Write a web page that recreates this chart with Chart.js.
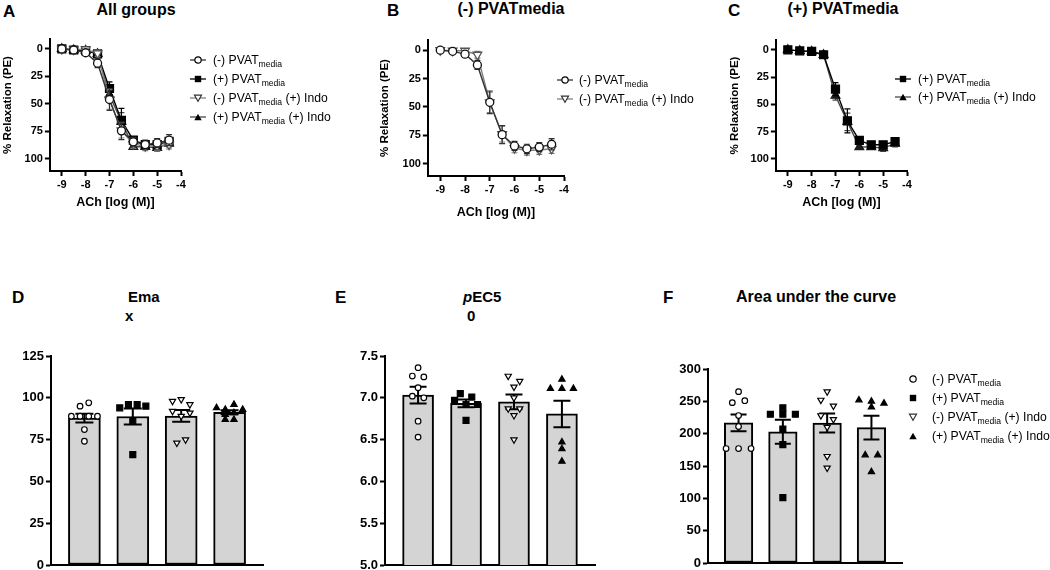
<!DOCTYPE html>
<html>
<head>
<meta charset="utf-8">
<script src="https://cdn.jsdelivr.net/npm/chart.js@4.4.1/dist/chart.umd.min.js"></script>
<style>
html, body { margin: 0; padding: 0; background: #fff; }
body { position: relative; width: 1050px; height: 570px; overflow: hidden; font-family: 'Liberation Sans', Arial, Helvetica, sans-serif; color: #000; }
canvas { position: absolute; }
.t { position: absolute; font-weight: bold; white-space: nowrap; line-height: 1; }
.lg { position: absolute; height: 12px; display: flex; align-items: center; font-size: 12.2px; white-space: nowrap; line-height: 1; }
.lg sub { font-size: 8.6px; vertical-align: baseline; position: relative; top: 3px; }
</style>
</head>
<body>
<script>
// concentration-response (mean, SEM), log [ACh]
const logAch = [-9, -8.5, -8, -7.5, -7, -6.5, -6, -5.5, -5, -4.5];
const relaxMinus = [0, 1, 3.5, 13, 46, 74.5, 84.5, 87, 85.5, 83];
const semMinus = [0.5, 1.5, 2, 4, 10, 8, 4, 4, 4, 5];
const relaxPlus = [0, 1, 1.5, 4.5, 36, 65, 83, 87, 87, 84];
const semPlus = [0.5, 1, 1, 1.5, 6, 11, 3, 3, 3, 3];
const relaxMinusIndo = [0, 0.5, 0.5, 4, 46, 74, 86.5, 88.5, 88, 87];
const semMinusIndo = [0.5, 1, 2, 3, 9, 7, 4, 4, 4, 4];
const relaxPlusIndo = [0, 1, 1.5, 4.5, 42, 66, 89, 89, 90, 86];
const semPlusIndo = [0.5, 1, 1, 1.5, 4, 8, 2, 2, 3, 3];
const logTicks = [-9, -8, -7, -6, -5, -4];
const relaxTicks = [0, 25, 50, 75, 100];

// individual values per group: (-) PVAT, (+) PVAT, (-) PVAT + Indo, (+) PVAT + Indo
const emaxMinus = [95, 97, 89, 89, 89, 89, 81, 74];
const emaxPlus = [94, 96, 96, 95, 86, 66];
const emaxMinusIndo = [98, 99, 96, 92, 89, 91, 73, 75];
const emaxPlusIndo = [94, 93, 96, 93, 90, 87, 87, 91];
const emaxTicks = [0, 25, 50, 75, 100, 125];

const pecMinus = [7.36, 7.26, 7.25, 7.12, 7.02, 7.0, 6.72, 6.53];
const pecPlus = [7.05, 7.01, 6.97, 6.92, 6.92, 6.73];
const pecMinusIndo = [7.26, 7.2, 7.13, 7.0, 6.87, 6.87, 6.79, 6.5];
const pecPlusIndo = [7.22, 7.11, 7.11, 7.11, 6.47, 6.39, 6.24];
const pecTicks = [5.0, 5.5, 6.0, 6.5, 7.0, 7.5];

const aucMinus = [265, 248, 251, 228, 211, 177, 177, 177];
const aucPlus = [240, 230, 230, 230, 207, 183, 101];
const aucMinusIndo = [265, 252, 243, 228, 222, 210, 165, 147];
const aucPlusIndo = [252, 250, 247, 241, 167, 167, 141];
const aucTicks = [0, 50, 100, 150, 200, 250, 300];

const groupKeys = ['minus', 'plus', 'minusIndo', 'plusIndo'];
const groupNames = ['(-) PVAT', '(+) PVAT', '(-) PVAT', '(+) PVAT'];
const groupTails = ['', '', ' (+) Indo', ' (+) Indo'];

const FONT = "'Liberation Sans', Arial, Helvetica, sans-serif";
Chart.defaults.font.family = FONT;
Chart.defaults.color = '#000';

const look = {
  minus: { shape: 'circle', rot: 0, r: 4, fill: '#fff', edge: '#111', line: '#333' },
  plus: { shape: 'rect', rot: 0, r: 5.6, fill: '#000', edge: '#000', line: '#000' },
  minusIndo: { shape: 'triangle', rot: 180, r: 5, fill: '#fff', edge: '#555', line: '#808080' },
  plusIndo: { shape: 'triangle', rot: 0, r: 5, fill: '#1a1a1a', edge: '#1a1a1a', line: '#4a4a4a' }
};

function drawErrors(chart, i) {
  const ds = chart.data.datasets[i];
  if (!chart.isDatasetVisible(i)) return;
  const xs = chart.scales.x, ys = chart.scales.y, ctx = chart.ctx;
  const c = ds.capWidth / 2;
  ctx.save();
  ctx.strokeStyle = ds.errColor;
  ctx.lineWidth = ds.errWidth;
  ds.data.forEach((p, j) => {
    const e = ds.errors[j];
    const x = xs.getPixelForValue(p.x);
    const y1 = ys.getPixelForValue(p.y - e), y2 = ys.getPixelForValue(p.y + e);
    ctx.beginPath();
    ctx.moveTo(x, y1); ctx.lineTo(x, y2);
    ctx.moveTo(x - c, y1); ctx.lineTo(x + c, y1);
    ctx.moveTo(x - c, y2); ctx.lineTo(x + c, y2);
    ctx.stroke();
  });
  ctx.restore();
}

Chart.register({
  id: 'errorBars',
  beforeDatasetDraw(chart, args) {
    const ds = chart.data.datasets[args.index];
    if (ds.errors && !ds.errAbove) drawErrors(chart, args.index);
  },
  afterDatasetDraw(chart, args) {
    const ds = chart.data.datasets[args.index];
    if (ds.errors && ds.errAbove) drawErrors(chart, args.index);
  }
});

function addCanvas(box) {
  const c = document.createElement('canvas');
  c.width = box.right - box.left;
  c.height = box.bottom - box.top;
  c.style.left = box.left + 'px';
  c.style.top = box.top + 'px';
  document.body.appendChild(c);
  return c;
}

function text(html, x, baseline, size, align) {
  const d = document.createElement('div');
  d.className = 't';
  d.innerHTML = html;
  d.style.fontSize = size + 'px';
  d.style.top = (baseline - 0.8465 * size) + 'px';
  d.style.left = x + 'px';
  if (align === 'center') d.style.transform = 'translateX(-50%)';
  document.body.appendChild(d);
}

function symbolSvg(key, withLine) {
  const s = look[key];
  let m;
  if (key === 'minus') m = '<circle cx="8" cy="6" r="3.2" fill="#fff" stroke="#000" stroke-width="1.2"/>';
  else if (key === 'plus') m = '<rect x="4.8" y="2.8" width="6.4" height="6.4" fill="#000"/>';
  else if (key === 'minusIndo') m = '<polygon points="4.5,3.2 11.5,3.2 8,9.2" fill="#fff" stroke="#333" stroke-width="1.2"/>';
  else m = '<polygon points="4.3,9.2 11.7,9.2 8,2.8" fill="#000"/>';
  const line = withLine ? '<line x1="0" y1="6" x2="16" y2="6" stroke="' + s.line + '" stroke-width="1.3"/>' : '';
  return '<svg width="16" height="12" viewBox="0 0 16 12">' + line + m + '</svg>';
}

function legend(idx, symLeft, textLeft, rows, withLine) {
  idx.forEach((g, k) => {
    const d = document.createElement('div');
    d.className = 'lg';
    d.style.left = symLeft + 'px';
    d.style.top = (rows[k] - 6) + 'px';
    d.innerHTML = symbolSvg(groupKeys[g], withLine) +
      '<span style="margin-left:' + (textLeft - symLeft - 16) + 'px">' +
      groupNames[g] + '<sub>media</sub>' + groupTails[g] + '</span>';
    document.body.appendChild(d);
  });
}

const curveVals = [relaxMinus, relaxPlus, relaxMinusIndo, relaxPlusIndo];
const curveSems = [semMinus, semPlus, semMinusIndo, semPlusIndo];

function curveDataset(g) {
  const s = look[groupKeys[g]];
  return {
    data: logAch.map((x, i) => ({ x: x, y: curveVals[g][i] })),
    errors: curveSems[g], errColor: s.line, errWidth: 1.2, capWidth: 6,
    borderColor: s.line, borderWidth: 1.4, tension: 0, fill: false,
    pointStyle: s.shape, pointRotation: s.rot, pointRadius: s.r,
    pointBackgroundColor: s.fill, pointBorderColor: s.edge, pointBorderWidth: 1.3
  };
}

function curvePanel(groups, area, yTitleX, xTitleY) {
  const box = { left: yTitleX - 6.9, top: area.t - 12, right: area.r + 16, bottom: xTitleY + 10 };
  const tickGrid = { display: true, drawOnChartArea: false, drawTicks: true, tickLength: 5, tickWidth: 2, tickColor: '#000' };
  new Chart(addCanvas(box), {
    type: 'line',
    data: { datasets: groups.map(curveDataset) },
    options: {
      responsive: false, animation: false, devicePixelRatio: 1, events: [],
      layout: { padding: { left: 0, top: area.t - box.top, right: box.right - area.r, bottom: 0 } },
      plugins: { legend: { display: false }, tooltip: { enabled: false } },
      scales: {
        x: {
          type: 'linear', min: -9.5, max: -4, offset: false,
          afterBuildTicks: s => { s.ticks = logTicks.map(v => ({ value: v })); },
          afterFit: s => { s.height = box.bottom - area.b; },
          grid: tickGrid, border: { display: true, color: '#000', width: 2 },
          ticks: { font: { size: 11, weight: 'bold' }, padding: 2, autoSkip: false, maxRotation: 0 },
          title: { display: true, text: 'ACh [log (M)]', font: { size: 12.5, weight: 'bold' }, padding: { top: 0, bottom: 2.5 } }
        },
        y: {
          type: 'linear', min: -9, max: 111, reverse: true,
          afterBuildTicks: s => { s.ticks = relaxTicks.map(v => ({ value: v })); },
          afterFit: s => { s.width = area.l - box.left; },
          grid: tickGrid, border: { display: true, color: '#000', width: 2 },
          ticks: { font: { size: 11, weight: 'bold' }, padding: 2, autoSkip: false },
          title: { display: true, text: '% Relaxation (PE)', font: { size: 11.5, weight: 'bold' }, padding: { top: 0, bottom: 0 } }
        }
      }
    }
  });
}

function mean(a) { return a.reduce((s, v) => s + v, 0) / a.length; }
function sem(a) {
  const m = mean(a);
  return Math.sqrt(a.reduce((s, v) => s + (v - m) * (v - m), 0) / (a.length - 1) / a.length);
}

// scatter dots spread sideways, row by row, like a column scatter
function swarm(vals, center, pxPerY, stepX) {
  const order = vals.map((v, i) => i).sort((a, b) => vals[b] - vals[a]);
  const rows = [];
  order.forEach(i => {
    const r = rows[rows.length - 1];
    if (r && (vals[r[0]] - vals[i]) * pxPerY < 6) r.push(i); else rows.push([i]);
  });
  const pts = [];
  rows.forEach(r => {
    r.sort((a, b) => a - b);
    r.forEach((i, k) => pts.push({ x: center + (k - (r.length - 1) / 2) * stepX, y: vals[i] }));
  });
  return pts;
}

const dotLook = {
  minus: { shape: 'circle', rot: 0, r: 2.8, fill: '#fff', edge: '#000' },
  plus: { shape: 'rect', rot: 0, r: 4.2, fill: '#000', edge: '#000' },
  minusIndo: { shape: 'triangle', rot: 180, r: 3.6, fill: '#fff', edge: '#000' },
  plusIndo: { shape: 'triangle', rot: 0, r: 3.6, fill: '#000', edge: '#000' }
};

function barPanel(groups, ticks, fmt, tickSize, area, st) {
  const box = { left: area.l - 48, top: area.t - 12, right: area.r + 14, bottom: area.b + 20 };
  const xmin = -0.69, xmax = 3.69;
  const ymin = ticks[0], ymax = ticks[ticks.length - 1];
  const pxY = (area.b - area.t) / (ymax - ymin);
  const stepX = st.step * (xmax - xmin) / (area.r - area.l);
  const datasets = [{
    type: 'bar', order: 1,
    data: groups.map((g, i) => ({ x: i, y: mean(g) })),
    errors: groups.map(sem), errAbove: true, errColor: '#000', errWidth: 2, capWidth: st.cap,
    backgroundColor: '#d4d4d4', borderColor: '#000', borderWidth: 2, borderSkipped: false,
    barThickness: st.bar
  }];
  groups.forEach((g, i) => {
    const s = dotLook[groupKeys[i]];
    datasets.push({
      type: 'scatter', order: 0, data: swarm(g, i, pxY, stepX),
      pointStyle: s.shape, pointRotation: s.rot, pointRadius: s.r,
      pointBackgroundColor: s.fill, pointBorderColor: s.edge, pointBorderWidth: 1.2
    });
  });
  new Chart(addCanvas(box), {
    type: 'bar',
    data: { datasets: datasets },
    options: {
      responsive: false, animation: false, devicePixelRatio: 1, events: [],
      layout: { padding: { left: 0, top: area.t - box.top, right: box.right - area.r, bottom: 0 } },
      plugins: { legend: { display: false }, tooltip: { enabled: false } },
      scales: {
        x: {
          type: 'linear', min: xmin, max: xmax, offset: false,
          afterFit: s => { s.height = box.bottom - area.b; },
          grid: { display: false, offset: false }, border: { display: true, color: '#000', width: 2 },
          ticks: { display: false }
        },
        y: {
          type: 'linear', min: ymin, max: ymax,
          afterBuildTicks: s => { s.ticks = ticks.map(v => ({ value: v })); },
          afterFit: s => { s.width = area.l - box.left; },
          grid: { display: true, drawOnChartArea: false, drawTicks: true, tickLength: 5, tickWidth: 2, tickColor: '#000' },
          border: { display: true, color: '#000', width: 2 },
          ticks: { font: { size: tickSize, weight: 'bold' }, padding: 2, autoSkip: false, callback: fmt }
        }
      }
    }
  });
}

// top row
curvePanel([0, 2, 1, 3], { l: 50, t: 39, r: 182, b: 171 }, 8, 203);
curvePanel([0, 2], { l: 428, t: 40, r: 565, b: 176 }, 385, 213);
curvePanel([1, 3], { l: 776, t: 40, r: 908, b: 171 }, 735, 203);

// bottom row
barPanel([emaxMinus, emaxPlus, emaxMinusIndo, emaxPlusIndo], emaxTicks, v => String(v), 13,
  { l: 51, t: 356, r: 263, b: 565 }, { step: 8.7, bar: 32, cap: 18 });
barPanel([pecMinus, pecPlus, pecMinusIndo, pecPlusIndo], pecTicks, v => v.toFixed(1), 13,
  { l: 385, t: 356, r: 595, b: 565 }, { step: 11.5, bar: 31, cap: 17 });
barPanel([aucMinus, aucPlus, aucMinusIndo, aucPlusIndo], aucTicks, v => String(v), 13,
  { l: 708, t: 369, r: 902, b: 563 }, { step: 12.5, bar: 28.5, cap: 16 });

// panel letters and titles
text('A', 3, 17, 17);
text('B', 387, 16, 17);
text('C', 728, 16.5, 17);
text('D', 12, 303, 17);
text('E', 335, 303, 17);
text('F', 663, 303, 17);
text('All groups', 136, 16, 16, 'center');
text('(-) PVATmedia', 511, 15, 16, 'center');
text('(+) PVATmedia', 843, 14.5, 16, 'center');
text('Ema', 128, 302, 15);
text('x', 125, 321, 15);
text('<i>p</i>EC5', 463, 302, 15);
text('0', 467, 321, 15);
text('Area under the curve', 816, 303, 16, 'center');

// legends
legend([0, 1, 2, 3], 190, 213, [60, 79, 98, 117], true);
legend([0, 2], 557, 579, [80, 99], true);
legend([1, 3], 895, 918, [79, 97], true);
legend([0, 1, 2, 3], 905, 932, [379, 398, 417, 436], false);
</script>
</body>
</html>
